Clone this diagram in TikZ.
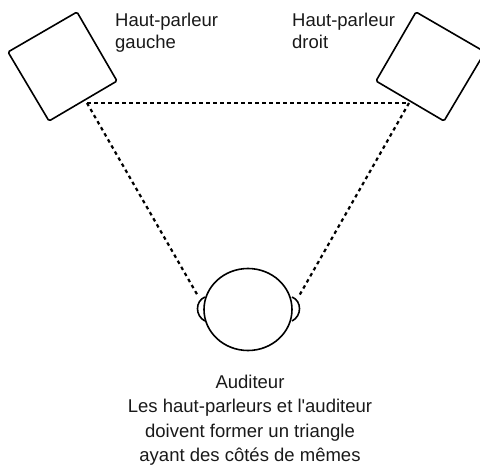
\documentclass[tikz,border=0pt]{standalone}
\usepackage{fontspec}
\setmainfont{Liberation Sans}
\usetikzlibrary{shapes.geometric}
\tikzset{
  outline/.style={draw=black,line width=1.6pt,line join=round},
  dotline/.style={draw=black,line width=2.2pt,dash pattern=on 3.5pt off 3.5pt},
  caption/.style={inner sep=0pt,font=\fontsize{18.5}{22}\selectfont,align=left,anchor=north west,text=black!90},
  note/.style={inner sep=0pt,font=\fontsize{18.5}{24.5}\selectfont,align=center,anchor=north,text=black!90}
}
\begin{document}
\begin{tikzpicture}[x=1pt,y=-1pt]
\useasboundingbox (0,0) rectangle (480,466);
\begin{scope}
\clip (0,0) rectangle (480,466);
\draw[outline,rounded corners=1.5pt] (77,12) -- (8,52) -- (49,121) -- (117,81) -- cycle;
\draw[outline,rounded corners=1.5pt] (416,12) -- (376,81) -- (444,121) -- (485,52) -- cycle;
\end{scope}
\coordinate (sl) at (87,103);
\coordinate (sr) at (409,103);
\coordinate (el) at (198,296);
\coordinate (er) at (299,296);
\draw[dotline] (sl) -- (sr);
\draw[dotline] (sl) -- (el);
\draw[dotline] (sr) -- (er);
\draw[outline] (205,297) .. controls (195,301) and (195,316) .. (205,321);
\draw[outline] (292,297) .. controls (302,301) and (302,316) .. (292,321);
\node[draw=black,line width=1.6pt,fill=white,ellipse,minimum width=88pt,minimum height=82pt,inner sep=0pt,outer sep=0pt] (head) at (248,309.5) {};
\node[caption] (capl) at (115,12.5) {Haut-parleur\\gauche};
\node[caption] (capr) at (292,13) {Haut-parleur\\droit};
\node[note] (aud) at (250,374.5) {Auditeur\\Les haut-parleurs et l\textquotesingle auditeur\\doivent former un triangle\\ayant des côtés de mêmes};
\end{tikzpicture}
\end{document}
